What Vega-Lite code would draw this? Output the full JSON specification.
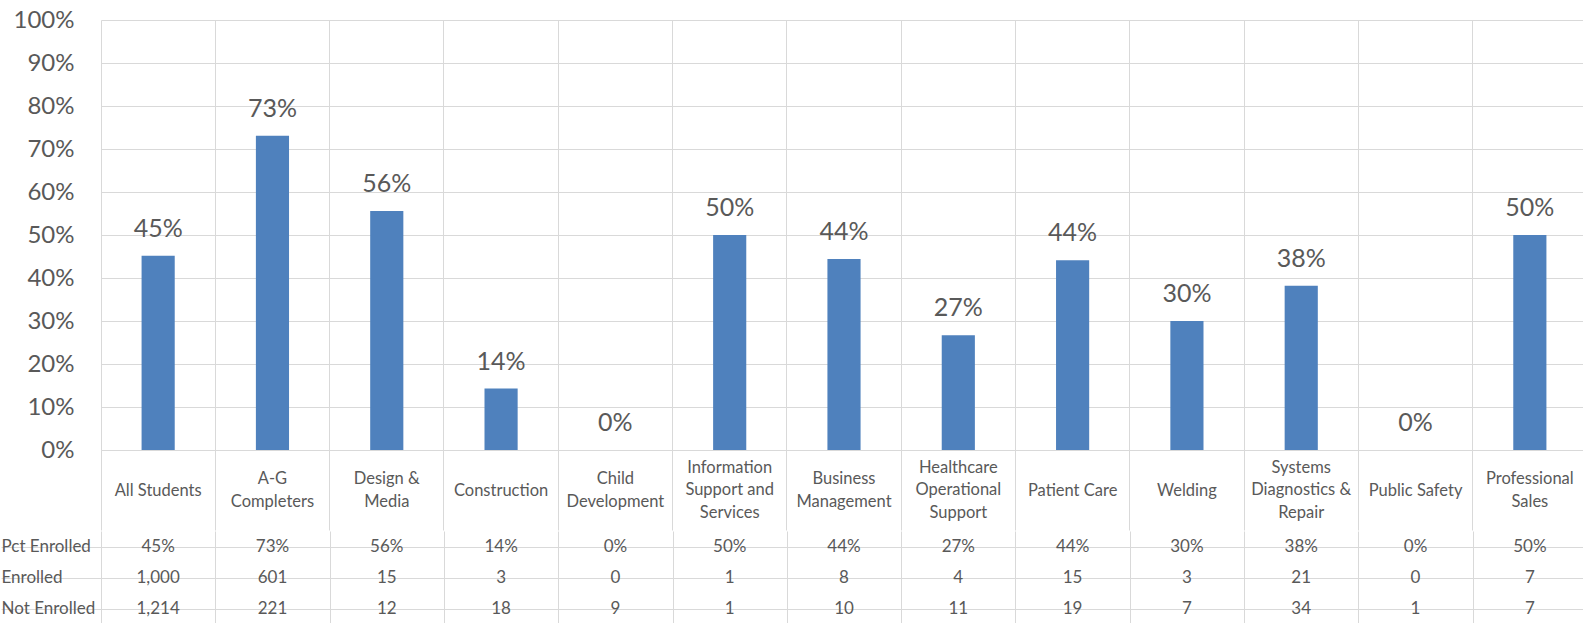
{
  "$schema": "https://vega.github.io/schema/vega-lite/v6.json",
  "padding": {"left": 0, "top": 8, "right": 0, "bottom": 0},
  "background": "white",
  "spacing": 0,
  "config": {
    "font": "Lato",
    "view": {"stroke": null},
    "axis": {"labelColor": "#595959", "gridColor": "#D9D9D9", "tickColor": "#D9D9D9", "domainColor": "#D9D9D9", "gridWidth": 1}
  },
  "data": {
    "values": [
      {"cat": "All Students", "pct": 0.452, "enrolled": 1000, "notEnrolled": 1214},
      {"cat": "A-G\nCompleters", "pct": 0.731, "enrolled": 601, "notEnrolled": 221},
      {"cat": "Design &\nMedia", "pct": 0.556, "enrolled": 15, "notEnrolled": 12},
      {"cat": "Construction", "pct": 0.143, "enrolled": 3, "notEnrolled": 18},
      {"cat": "Child\nDevelopment", "pct": 0, "enrolled": 0, "notEnrolled": 9},
      {"cat": "Information\nSupport and\nServices", "pct": 0.5, "enrolled": 1, "notEnrolled": 1},
      {"cat": "Business\nManagement", "pct": 0.444, "enrolled": 8, "notEnrolled": 10},
      {"cat": "Healthcare\nOperational\nSupport", "pct": 0.267, "enrolled": 4, "notEnrolled": 11},
      {"cat": "Patient Care", "pct": 0.441, "enrolled": 15, "notEnrolled": 19},
      {"cat": "Welding", "pct": 0.3, "enrolled": 3, "notEnrolled": 7},
      {"cat": "Systems\nDiagnostics &\nRepair", "pct": 0.382, "enrolled": 21, "notEnrolled": 34},
      {"cat": "Public Safety", "pct": 0, "enrolled": 0, "notEnrolled": 1},
      {"cat": "Professional\nSales", "pct": 0.5, "enrolled": 7, "notEnrolled": 7}
    ]
  },
  "vconcat": [
    {
      "width": 1486,
      "height": 430,
      "encoding": {
        "x": {
          "field": "cat", "type": "nominal", "sort": null,
          "scale": {"paddingInner": 0, "paddingOuter": 0},
          "axis": {
            "title": null, "bandPosition": 0, "grid": true, "ticks": true, "tickSize": 80,
            "domain": true, "labelAngle": 0, "labelFontSize": 16.5, "labelBaseline": "middle",
            "labelPadding": {
              "condition": [
                {"test": "length(split(datum.value, '\\n')) == 3", "value": -62.7},
                {"test": "length(split(datum.value, '\\n')) == 2", "value": -51.35}
              ],
              "value": -40
            },
            "labelLineHeight": 22.7, "labelLimit": 200,
            "labelExpr": "split(datum.value, '\\n')"
          }
        },
        "y": {
          "field": "pct", "type": "quantitative",
          "scale": {"domain": [0, 1], "nice": false},
          "axis": {
            "title": null, "values": [0, 0.1, 0.2, 0.3, 0.4, 0.5, 0.6, 0.7, 0.8, 0.9, 1],
            "format": ".0%", "grid": true, "ticks": false, "domain": false,
            "labelFontSize": 24, "labelPadding": 27
          }
        }
      },
      "layer": [
        {"mark": {"type": "bar", "color": "#4F81BD", "width": {"band": 0.29}}},
        {
          "mark": {"type": "text", "baseline": "alphabetic", "dy": -19, "fontSize": 25, "color": "#595959"},
          "encoding": {"text": {"field": "pct", "format": ".0%"}}
        }
      ]
    },
    {
      "width": 1486,
      "height": 93,
      "encoding": {
        "x": {
          "field": "cat", "type": "nominal", "sort": null,
          "scale": {"paddingInner": 0, "paddingOuter": 0},
          "axis": {"title": null, "bandPosition": 0, "tickBand": "extent", "grid": true, "ticks": false, "labels": false, "domain": false}
        }
      },
      "layer": [
        {
          "mark": {"type": "text", "fontSize": 17, "color": "#595959"},
          "encoding": {
            "y": {
              "datum": "Pct Enrolled", "type": "nominal",
              "scale": {"domain": ["Pct Enrolled", "Enrolled", "Not Enrolled"], "paddingInner": 0, "paddingOuter": 0},
              "axis": {
                "title": null, "bandPosition": 0, "grid": true, "ticks": true, "tickSize": 100,
                "domain": false, "labelAlign": "left", "labelPadding": 0, "labelBaseline": "middle",
                "labelFontSize": 17
              }
            },
            "text": {"field": "pct", "format": ".0%"}
          }
        },
        {
          "mark": {"type": "text", "fontSize": 17, "color": "#595959"},
          "encoding": {
            "y": {"datum": "Enrolled", "type": "nominal"},
            "text": {"field": "enrolled", "format": ","}
          }
        },
        {
          "mark": {"type": "text", "fontSize": 17, "color": "#595959"},
          "encoding": {
            "y": {"datum": "Not Enrolled", "type": "nominal"},
            "text": {"field": "notEnrolled", "format": ","}
          }
        }
      ]
    }
  ]
}
